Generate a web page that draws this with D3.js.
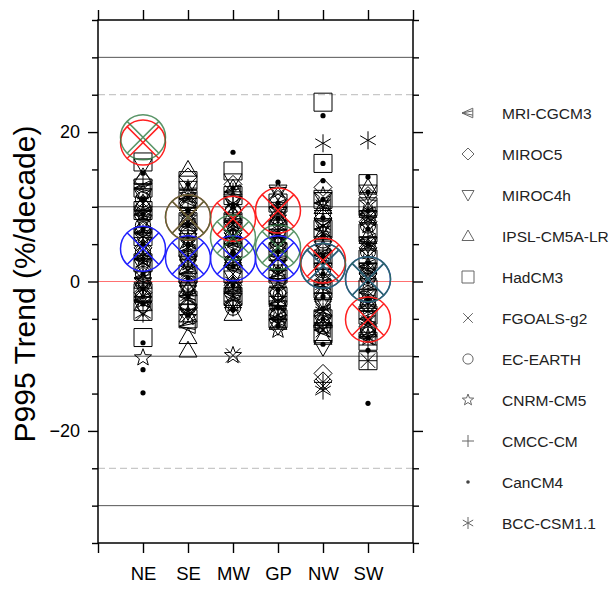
<!DOCTYPE html>
<html><head><meta charset="utf-8">
<script src="https://cdn.jsdelivr.net/npm/d3@7"></script>
<style>html,body{margin:0;padding:0;background:#fff;}svg{display:block;font-family:"Liberation Sans",Arial,sans-serif;}</style>
</head><body><svg id="c" width="609" height="589"></svg>
<script>
const regions = ["NE","SE","MW","GP","NW","SW"];
const models = ["MRI-CGCM3","MIROC5","MIROC4h","IPSL-CM5A-LR","HadCM3","FGOALS-g2","EC-EARTH","CNRM-CM5","CMCC-CM","CanCM4","BCC-CSM1.1"];
const markerTypes = ["ltri","diamond","dtri","utri","square","cross","circle","star","plus","dot","asterisk"];
const yTickLabels = [-20, 0, 20];
const solidLines = [-30, -10, 10, 30];
const dashedLines = [-25, 25];

// ensemble member trends (%/decade), per region NE,SE,MW,GP,NW,SW
const mriCGCM3 = [[12.5,9,6.5,3,0.5,-2.5],[11,7.5,4,1,-2,-6],[12,8,5,2,-1.5],[10,6.5,3.5,0.5,-3,-5],[10.5,7,3.5,-0.5,-4,-6.5],[9,5.5,2,-1.5,-5,-7.5]];
const miroc5 = [[13.5,10,7,4.5,1.5,-1.5],[14,10.5,7,3.5,0,-3.5],[13,9.5,6.5,3,-0.5,-3],[11,8,5,2,-1.5,-4.5],[12.6,8.5,4,0,-4.5,-12.3,-13.3],[11.5,8,4.5,1,-2.5,-6]];
const miroc4h = [[15.5,11.5,8,5,2,-1,-3.5],[12.5,9,5.5,2.5,-1,-4],[13.5,10.5,7,4,0.5,-2.5],[12,9,6,2.5,-0.5,-3.5,-6],[11,7.5,4.5,1.5,-2.5,-5.5,-8.8],[12,8.5,5,1.5,-2,-4.5,-7]];
const ipslCM5ALR = [[14,10.5,7.5,4,0,-3],[15,12,8.5,5,2,-1,-4.5,-7.4,-9.2],[12.5,9,6,3,-0.5,-4.3],[11.5,8.5,5,1,-2.5,-5.5],[10,6.5,2.5,-1.5,-5,-7.5],[12.6,9.5,6,2,-3,-6.5]];
const hadCM3 = [[16,12.5,9.5,6,2.5,-1.5,-4,-7.5],[13.5,11,8,4.5,1,-2.5,-5],[14.8,11.5,8,4.5,1,-2],[10.5,7,4,1,-2,-5],[24,15.8,11,7,3,-1,-5,-7],[13.1,10,6.5,3,-1,-4.5,-8,-10.6]];
const fgoalsG2 = [[10.5,8,5,2,-1,-4.3],[11,7.5,4.5,1.5,-2,-4.5],[10,7,4,1,-2,-9.9],[9,6,3,0,-3,-5.5],[10,6.5,3,-0.5,-4,-6.5,-14],[8.5,5,1.5,-2,-5.5,-10.6]];
const ecEarth = [[11,7.5,4,1,-2],[10,6.5,3,-0.5,-3.5],[9.5,6,2.5,-1,-3.5],[8.5,5,2,-1.5,-4.5],[9,5.5,1.5,-2.5,-6],[7.5,4,0.5,-3,-6.5]];
const cnrmCM5 = [[12,9,6,3,0,-2.5,-10.2],[11.5,8.5,5.5,2.5,-1,-4.8],[11,8,5.5,2.5,-0.5,-3,-9.9],[12.2,8.5,5.5,2.5,-1,-4,-6.5],[11.5,8,4.5,0.5,-3,-6],[10.5,7.5,4,0,-3.5,-7.5]];
const cmccCM = [[13,9.5,6.5,3.5,0.5,-2],[12.5,9.5,6,3,-0.5,-3],[12,9,6,2.5,-1,-3.5],[10,7,4,1.5,-2,-5],[9.5,6,2.5,-1.5,-5.5,-13.5],[9.5,6,2.5,-1,-4,-8.5,-10.6]];
const canCM4 = [[14.5,11,9,7,5,3,1,-1,-3,-8.2,-11.8,-14.9],[13,11.5,9.5,7.5,5,3,0.5,-2,-4.5],[17.3,12.5,10,8,6,4,2,-0.5,-3.8],[13.3,10.5,8.5,6.5,4,1.5,-1,-3.5,-6],[22.2,15.8,13.5,11,8.5,6,3.5,1,-2,-5,-8.4],[14,12,9.5,7,5,2.5,0,-2.5,-5,-7.5,-9.2,-16.3]];
const bccCSM11 = [[9.5,6,2.5,-1,-4.3],[8.5,5,1.5,-2,-4],[10.5,7,3.5,0,-2.5],[7.5,4.5,1,-2.5,-5],[18.5,7.5,3.5,-0.5,-4,-14.6],[18.9,8,4.5,1,-3,-6]];
const ensembles = [mriCGCM3,miroc5,miroc4h,ipslCM5ALR,hadCM3,fgoalsG2,ecEarth,cnrmCM5,cmccCM,canCM4,bccCSM11];

// large circled-cross markers per region
const obsRed   = [18.6, 8.6, 8.4, 9.5, 2.8, -5.1];
const obsBlue  = [4.4, 3.1, 3.1, 3.1, 2.1, 0.3];
const obsGreen = [19.3, 8.6, 5.9, 4.6, 2.1, 0.3];

const svg = d3.select("#c");
const L = 98, R = 413, T = 20, B = 543;
const x = d3.scaleLinear().domain([0, 7]).range([L, R]);
const y = d3.scaleLinear().domain([-35, 35]).range([B, T]);

// reference lines
const g0 = svg.append("g");
g0.selectAll("line.s").data(solidLines).join("line")
  .attr("x1", L).attr("x2", R).attr("y1", d => y(d)).attr("y2", d => y(d))
  .attr("stroke", "#555").attr("stroke-width", 1);
g0.selectAll("line.d").data(dashedLines).join("line")
  .attr("x1", L).attr("x2", R).attr("y1", d => y(d)).attr("y2", d => y(d))
  .attr("stroke", "#c8c8c8").attr("stroke-width", 1.2).attr("stroke-dasharray", "7,4");
g0.append("line").attr("x1", L).attr("x2", R).attr("y1", y(0)).attr("y2", y(0))
  .attr("stroke", "#ff7070").attr("stroke-width", 1.2);

function markerPath(type, h) {
  const p = d3.path();
  switch (type) {
    case "square": p.rect(-h, -h, 2*h, 2*h); break;
    case "diamond": p.moveTo(0,-h); p.lineTo(h,0); p.lineTo(0,h); p.lineTo(-h,0); p.closePath(); break;
    case "utri": p.moveTo(0,-h); p.lineTo(h,h*0.75); p.lineTo(-h,h*0.75); p.closePath(); break;
    case "dtri": p.moveTo(0,h); p.lineTo(h,-h*0.75); p.lineTo(-h,-h*0.75); p.closePath(); break;
    case "ltri": p.moveTo(-h,0); p.lineTo(h*0.8,-h*0.8); p.lineTo(h*0.8,h*0.8); p.closePath();
      p.moveTo(-h,0); p.lineTo(h*0.8,-h*0.35); p.moveTo(-h,0); p.lineTo(h*0.8,h*0.35); break;
    case "cross": { const a = h*0.8; p.moveTo(-a,-a); p.lineTo(a,a); p.moveTo(a,-a); p.lineTo(-a,a); break; }
    case "plus": p.moveTo(-h,0); p.lineTo(h,0); p.moveTo(0,-h); p.lineTo(0,h); break;
    case "circle": p.moveTo(h*0.85,0); p.arc(0,0,h*0.85,0,2*Math.PI); break;
    case "star": for (let i = 0; i < 10; i++) { const r = i % 2 ? h*0.42 : h; const a = -Math.PI/2 + i*Math.PI/5;
        if (i === 0) p.moveTo(r*Math.cos(a), r*Math.sin(a)); else p.lineTo(r*Math.cos(a), r*Math.sin(a)); } p.closePath(); break;
    case "asterisk": for (const deg of [90, 30, -30]) { const a = deg*Math.PI/180;
        p.moveTo(-h*Math.cos(a), -h*Math.sin(a)); p.lineTo(h*Math.cos(a), h*Math.sin(a)); } break;
    case "dot": p.moveTo(h,0); p.arc(0,0,h,0,2*Math.PI); break;
  }
  return p.toString();
}

// ensemble members
const pts = [];
ensembles.forEach((mod, mi) => mod.forEach((vals, ri) => vals.forEach(v => pts.push({mi, ri, v}))));
svg.append("g").selectAll("path").data(pts).join("path")
  .attr("transform", d => `translate(${x(d.ri + 1)},${y(d.v)})`)
  .attr("d", d => markerTypes[d.mi] === "dot" ? markerPath("dot", 2.6) : markerPath(markerTypes[d.mi], 9))
  .attr("fill", d => markerTypes[d.mi] === "dot" ? "#000" : "none")
  .attr("stroke", "#000").attr("stroke-width", d => markerTypes[d.mi] === "dot" ? 0 : 1);

// big circled crosses
function bigMarks(vals, color, op) {
  const r = 22.5, a = r / Math.SQRT2;
  const g = svg.append("g").attr("stroke", color).attr("stroke-width", 1.5).attr("fill", "none").attr("opacity", op);
  const s = g.selectAll("g").data(vals).join("g")
    .attr("transform", (d, i) => `translate(${x(i + 1)},${y(d)})`);
  s.append("circle").attr("r", r);
  s.append("path").attr("d", `M${-a},${-a}L${a},${a}M${a},${-a}L${-a},${a}`);
}
bigMarks(obsBlue, "#2020ff", 1);
bigMarks(obsRed, "#ff2020", 1);
bigMarks(obsGreen, "#2f7a40", 0.8);

// frame
svg.append("rect").attr("x", L).attr("y", T).attr("width", R - L).attr("height", B - T)
  .attr("fill", "none").attr("stroke", "#000").attr("stroke-width", 1.5);

// axes
const xt = d3.range(0, 8);
const bottomAx = svg.append("g").attr("transform", `translate(0,${B})`)
  .call(d3.axisBottom(x).tickValues(xt).tickSize(10).tickPadding(14).tickFormat(d => regions[d - 1] || ""));
const topAx = svg.append("g").attr("transform", `translate(0,${T})`)
  .call(d3.axisTop(x).tickValues(xt).tickSize(10).tickFormat(""));
const minor = d3.range(-35, 36, 5).filter(v => v % 20 !== 0);
svg.append("g").attr("transform", `translate(${L},0)`).call(d3.axisLeft(y).tickValues(minor).tickSize(6).tickFormat(""));
svg.append("g").attr("transform", `translate(${R},0)`).call(d3.axisRight(y).tickValues(minor).tickSize(6).tickFormat(""));
svg.append("g").attr("transform", `translate(${L},0)`).call(d3.axisLeft(y).tickValues(yTickLabels).tickSize(10).tickPadding(8).tickFormat(d3.format("d")));
svg.append("g").attr("transform", `translate(${R},0)`).call(d3.axisRight(y).tickValues(yTickLabels).tickSize(10).tickFormat(""));
svg.selectAll(".domain").remove();
svg.selectAll(".tick line").attr("stroke", "#000").attr("stroke-width", 1.4);
svg.selectAll(".tick text").attr("fill", "#000").style("font-size", "18px").style("font-family", "'Liberation Sans',Arial,sans-serif");
bottomAx.selectAll(".tick text").attr("dy", "0.71em").style("font-size", "18.5px");

// y title
svg.append("text").attr("transform", "translate(35,284) rotate(-90)")
  .attr("text-anchor", "middle").style("font-size", "30px").attr("fill", "#000")
  .text("P995 Trend (%/decade)");

// legend
const ly = d3.scalePoint().domain(models).range([113, 523]);
const lg = svg.append("g").selectAll("g").data(models).join("g")
  .attr("transform", d => `translate(468,${ly(d)})`);
lg.append("path")
  .attr("d", (d, i) => markerTypes[i] === "dot" ? markerPath("dot", 1.8) : markerPath(markerTypes[i], 6))
  .attr("fill", (d, i) => markerTypes[i] === "dot" ? "#444" : "none")
  .attr("stroke", "#666").attr("stroke-width", (d, i) => markerTypes[i] === "dot" ? 0 : 1);
lg.append("text").attr("x", 34).attr("dy", "0.36em").style("font-size", "15.5px").attr("fill", "#222")
  .text(d => d);
</script></body></html>
